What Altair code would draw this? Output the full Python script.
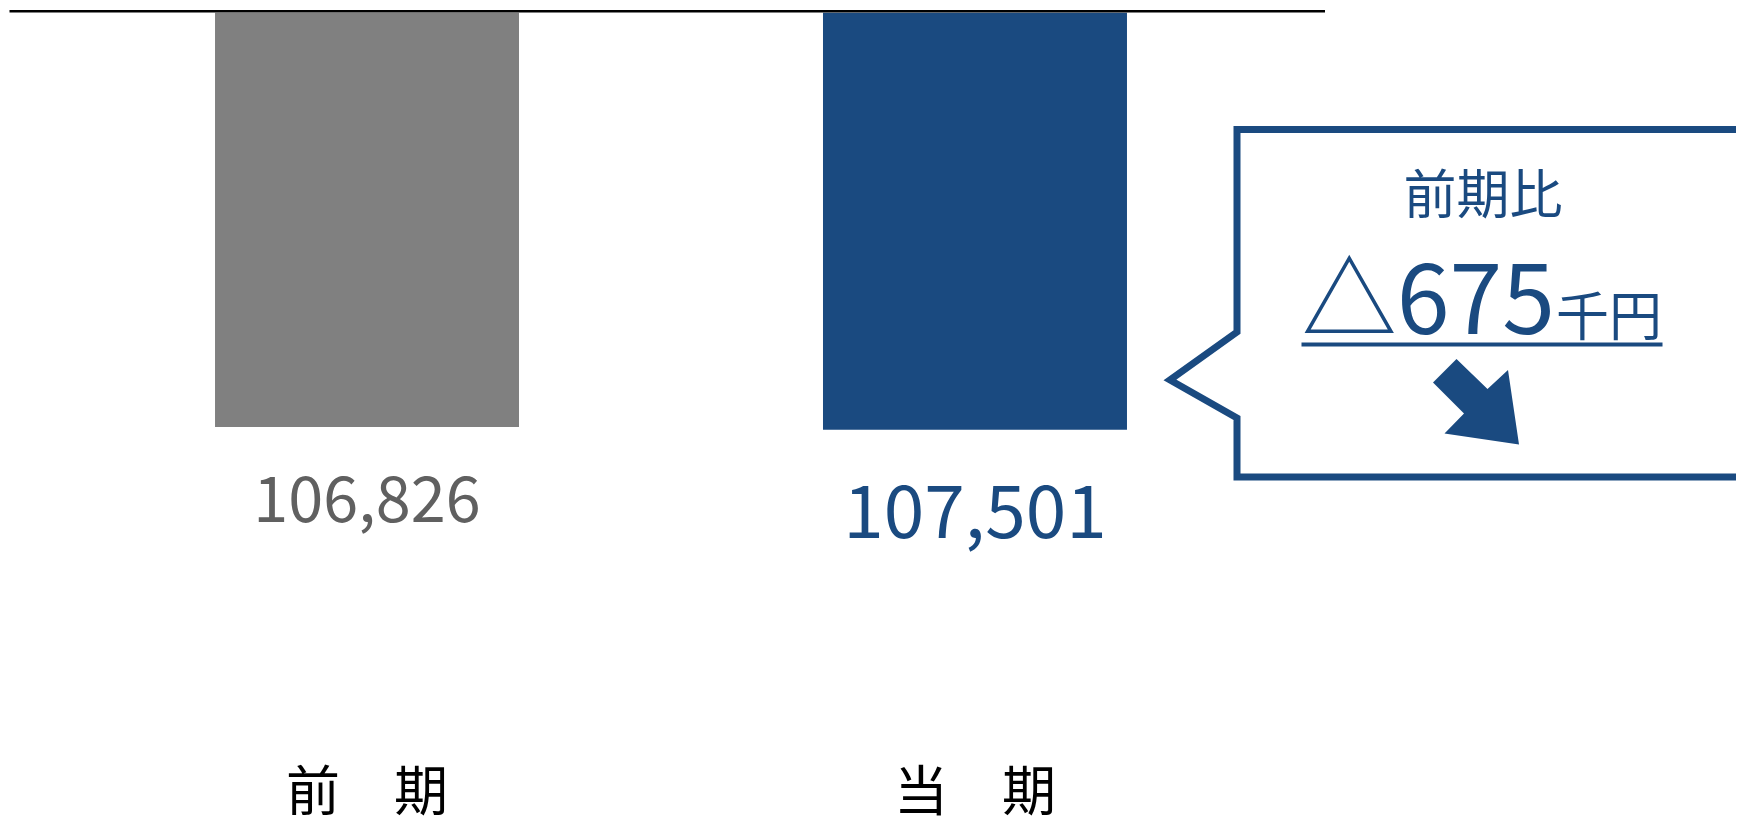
import altair as alt
import pandas as pd

# ---- data ----
categories = ["前期", "当期"]
category_labels = ["前　期", "当　期"]
values = [106826, 107501]
bar_colors = ["#808080", "#1A4A80"]

callout_title = "前期比"
callout_unit = "千円"
diff = values[1] - values[0]
callout_value = "△" + f"{diff:,}"

# callout outline (pixel geometry of the speech-bubble decoration)
bubble_x = [1800, 1229, 1229, 1162, 1229, 1229, 1800]
bubble_y = [121.5, 121.5, 324, 372, 410, 469, 469]
arrow_path = "M-19.5,-43L11.5,-13L32,-32L43,42.5L-31.5,31.5L-12,11.5L-43,-19.5Z"

BLUE = "#1A4A80"
FONT = "Noto Sans CJK JP"

df = pd.DataFrame({"cat": categories, "label": category_labels,
                   "value": values, "color": bar_colors})
one = pd.DataFrame({"t": [callout_title], "v": [callout_value], "u": [callout_unit]})
bubble = pd.DataFrame({"bx": bubble_x, "by": bubble_y, "i": list(range(len(bubble_x)))})

xenc = alt.X("cat:N", axis=None,
             scale=alt.Scale(type="band", domain=categories, range=[0, 1326],
                             paddingInner=0.5, paddingOuter=0.3405))
yenc = alt.Y("value:Q", axis=None,
             scale=alt.Scale(domain=[0, 200000], range=[4.7, 780.4], nice=False, zero=True))

base = alt.Chart(df)

bars = base.mark_bar().encode(x=xenc, y=yenc, color=alt.Color("color:N", scale=None))

lab_prev = base.transform_filter(alt.datum.cat == categories[0]).mark_text(
    font=FONT, fontSize=63, color="#606060", baseline="alphabetic", dy=95
).encode(x=xenc, y=yenc, text=alt.Text("value:Q", format=","))

lab_cur = base.transform_filter(alt.datum.cat == categories[1]).mark_text(
    font=FONT, fontSize=73, color=BLUE, baseline="alphabetic", dy=108.5
).encode(x=xenc, y=yenc, text=alt.Text("value:Q", format=","))

cat_labels = base.mark_text(
    font=FONT, fontSize=54, color="#000000", baseline="alphabetic"
).encode(x=xenc, y=alt.value(803), text="label:N")

top_rule = alt.Chart(one).mark_rule(color="#000000", strokeWidth=2.5).encode(
    x=alt.value(1.5), x2=alt.value(1317), y=alt.value(3.3))

box = alt.Chart(bubble).mark_line(
    color=BLUE, strokeWidth=7, strokeJoin="miter", strokeCap="butt"
).encode(x=alt.X("bx:Q", scale=None, axis=None),
         y=alt.Y("by:Q", scale=None, axis=None),
         order="i:Q")

title_txt = alt.Chart(one).mark_text(
    font=FONT, fontSize=53, color=BLUE, baseline="alphabetic", align="center"
).encode(x=alt.value(1475), y=alt.value(206), text="t:N")

value_txt = alt.Chart(one).mark_text(
    font=FONT, fontSize=95, color=BLUE, baseline="alphabetic", align="right"
).encode(x=alt.value(1547), y=alt.value(326), text="v:N")

unit_txt = alt.Chart(one).mark_text(
    font=FONT, fontSize=53, color=BLUE, baseline="alphabetic", align="left"
).encode(x=alt.value(1548), y=alt.value(328), text="u:N")

underline = alt.Chart(one).mark_rule(color=BLUE, strokeWidth=4).encode(
    x=alt.value(1293.5), x2=alt.value(1654.5), y=alt.value(336.5))

arrow = alt.Chart(one).mark_point(
    shape=arrow_path, size=4, filled=True, color=BLUE, opacity=1, strokeWidth=0
).encode(x=alt.value(1468), y=alt.value(394))

chart = alt.layer(
    bars, lab_prev, lab_cur, cat_labels, top_rule, box,
    title_txt, value_txt, unit_txt, underline, arrow
).resolve_scale(x="independent", y="independent").properties(
    width=1728, height=808, autosize="none", padding=0, background="#ffffff"
).configure_view(stroke=None)

chart.save("out.html", embed_options={"renderer": "svg", "actions": False})
